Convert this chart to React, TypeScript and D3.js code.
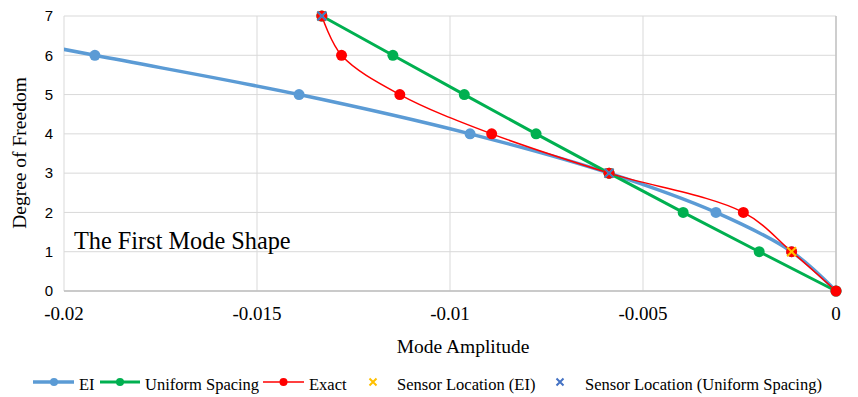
import React from "react";
import * as d3 from "d3";

const dof = [0, 1, 2, 3, 4, 5, 6, 7];
const eiValues = [0, -0.00115, -0.00311, -0.00588, -0.00948, -0.01391, -0.0192, -0.0245];
const uniformValues = [0, -0.00199, -0.00396, -0.00588, -0.00777, -0.00963, -0.01148, -0.01332];
const exactValues = [0, -0.00115, -0.0024, -0.00588, -0.00892, -0.0113, -0.01281, -0.01332];
const sensorEI = [
  { x: -0.00115, y: 1 },
  { x: -0.00588, y: 3 },
  { x: -0.01332, y: 7 },
];
const sensorUniform = [
  { x: -0.00588, y: 3 },
  { x: -0.01332, y: 7 },
];
const xTicks = [-0.02, -0.015, -0.01, -0.005, 0];
const xTickLabels = ["-0.02", "-0.015", "-0.01", "-0.005", "0"];
const yTicks = [0, 1, 2, 3, 4, 5, 6, 7];

const W = 858;
const H = 397;
const serif = "Liberation Serif, DejaVu Serif, Times New Roman, serif";
const sans = "Liberation Sans, Arial, sans-serif";

const BLUE = "#5B9BD5";
const GREEN = "#00B050";
const RED = "#FF0000";
const YELLOW = "#FFC000";
const XBLUE = "#4472C4";

function XMark({ cx, cy, color, s = 4.5 }: { cx: number; cy: number; color: string; s?: number }) {
  return (
    <path
      d={`M${cx - s},${cy - s}L${cx + s},${cy + s}M${cx - s},${cy + s}L${cx + s},${cy - s}`}
      stroke={color}
      strokeWidth={2}
      fill="none"
    />
  );
}

const serifStyle = { fontFamily: serif } as React.CSSProperties;
const sansStyle = { fontFamily: sans } as React.CSSProperties;

export default function App() {
  const x = d3.scaleLinear().domain([-0.02, 0]).range([64, 836]);
  const y = d3.scaleLinear().domain([0, 7]).range([291, 16]);

  const smooth = d3
    .line<[number, number]>()
    .x((d) => x(d[0]))
    .y((d) => y(d[1]))
    .curve(d3.curveCatmullRom.alpha(0.5));
  const straight = d3
    .line<[number, number]>()
    .x((d) => x(d[0]))
    .y((d) => y(d[1]));

  const eiPts: [number, number][] = dof.map((d, i) => [eiValues[i], d]);
  const uniPts: [number, number][] = dof.map((d, i) => [uniformValues[i], d]);
  const exPts: [number, number][] = dof.map((d, i) => [exactValues[i], d]);

  const legendY = 382;
  const legendTextY = 390;

  return (
    <svg width={W} height={H} style={{ position: "absolute", left: 0, top: 0, background: "#fff" }}>
      <defs>
        <clipPath id="plotClip">
          <rect x={64} y={0} width={790} height={300} />
        </clipPath>
      </defs>
      <rect x={0} y={0} width={W} height={H} fill="#fff" />
      {yTicks.map((t) => (
        <line key={"gy" + t} x1={64} x2={836} y1={y(t)} y2={y(t)} stroke="#D9D9D9" strokeWidth={1} />
      ))}
      {xTicks.map((t) => (
        <line key={"gx" + t} x1={x(t)} x2={x(t)} y1={y(7)} y2={y(0)} stroke="#D9D9D9" strokeWidth={1} />
      ))}
      <line x1={64} x2={836} y1={y(0)} y2={y(0)} stroke="#BFBFBF" strokeWidth={1.3} />
      <line x1={x(0)} x2={x(0)} y1={y(7)} y2={y(0)} stroke="#BFBFBF" strokeWidth={1.3} />

      {yTicks.map((t) => (
        <text key={"ty" + t} x={53} y={y(t)} dy="0.35em" textAnchor="end" style={sansStyle} fontSize={15} fill="#000">
          {t}
        </text>
      ))}
      {xTicks.map((t, i) => (
        <text key={"tx" + t} x={x(t)} y={320} textAnchor="middle" style={serifStyle} fontSize={19} fill="#000">
          {xTickLabels[i]}
        </text>
      ))}

      <text x={463} y={353} textAnchor="middle" style={serifStyle} fontSize={19.5} fill="#000">
        Mode Amplitude
      </text>
      <text
        transform={`translate(26,${153}) rotate(-90)`}
        textAnchor="middle"
        style={serifStyle}
        fontSize={19.5}
        fill="#000"
      >
        Degree of Freedom
      </text>

      <text x={74} y={249} style={serifStyle} fontSize={24.3} fill="#000">
        The First Mode Shape
      </text>

      <g clipPath="url(#plotClip)">
        <path d={smooth(eiPts) || ""} fill="none" stroke={BLUE} strokeWidth={3.5} strokeLinejoin="round" />
        <path d={straight(uniPts) || ""} fill="none" stroke={GREEN} strokeWidth={3} strokeLinejoin="round" />
        <path d={smooth(exPts) || ""} fill="none" stroke={RED} strokeWidth={1.5} />
      </g>
      {eiPts
        .filter((p) => p[0] >= -0.02)
        .map((p, i) => (
          <circle key={"me" + i} cx={x(p[0])} cy={y(p[1])} r={5.5} fill={BLUE} />
        ))}
      {uniPts.map((p, i) => (
        <circle key={"mu" + i} cx={x(p[0])} cy={y(p[1])} r={5.5} fill={GREEN} />
      ))}
      {exPts.map((p, i) => (
        <circle key={"mx" + i} cx={x(p[0])} cy={y(p[1])} r={5.5} fill={RED} />
      ))}
      {sensorEI.map((p, i) => (
        <XMark key={"se" + i} cx={x(p.x)} cy={y(p.y)} color={YELLOW} />
      ))}
      {sensorUniform.map((p, i) => (
        <XMark key={"su" + i} cx={x(p.x)} cy={y(p.y)} color={XBLUE} />
      ))}

      <g style={serifStyle} fontSize={16.5} fill="#000">
        <line x1={33} x2={74} y1={legendY} y2={legendY} stroke={BLUE} strokeWidth={3.5} />
        <circle cx={54} cy={legendY} r={4} fill={BLUE} />
        <text x={79} y={legendTextY}>EI</text>

        <line x1={100} x2={140} y1={legendY} y2={legendY} stroke={GREEN} strokeWidth={3} />
        <circle cx={120} cy={legendY} r={4} fill={GREEN} />
        <text x={145} y={legendTextY}>Uniform Spacing</text>

        <line x1={263} x2={304} y1={legendY} y2={legendY} stroke={RED} strokeWidth={1.5} />
        <circle cx={283.5} cy={legendY} r={4} fill={RED} />
        <text x={309} y={legendTextY}>Exact</text>

        <XMark cx={373} cy={legendY} color={YELLOW} s={3.5} />
        <text x={397} y={legendTextY}>Sensor Location (EI)</text>

        <XMark cx={560} cy={legendY} color={XBLUE} s={3.5} />
        <text x={585} y={legendTextY}>Sensor Location (Uniform Spacing)</text>
      </g>
    </svg>
  );
}
